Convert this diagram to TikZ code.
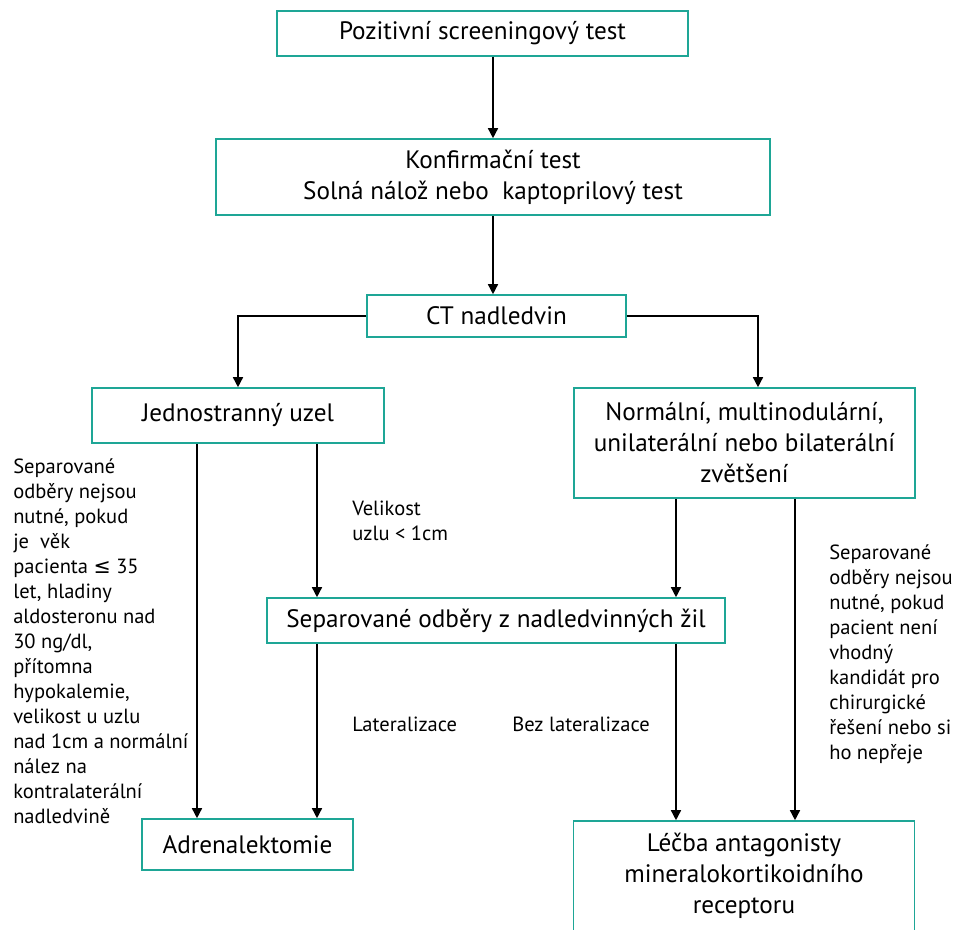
\documentclass[tikz,border=0pt]{standalone}
\usepackage{fontspec}
\setmainfont{PT Sans}
\newfontfamily\symfont{DejaVu Sans}
\usetikzlibrary{arrows.meta}
\definecolor{boxteal}{RGB}{30,166,150}

\begin{document}
\begin{tikzpicture}[x=0.75pt,y=0.75pt,yscale=-1,xscale=1,
  greenbox/.style={draw=boxteal,line width=1.2pt,align=center,inner sep=0pt,font=\fontsize{18.9}{23.25}\selectfont},
  note/.style={align=left,inner sep=0pt,anchor=north west,font=\fontsize{15.4}{18.75}\selectfont},
  conn/.style={line width=1.1pt,-{Triangle[width=7.5pt,length=7.5pt]}}]
%set diagram to 957 x 929
\clip (0,0) rectangle (957,929);

%Shape: Rectangle [screening]
\node[greenbox,minimum width=308.25pt,minimum height=33.75pt] (screen) at (482.5,33.5) {Pozitivní screeningový test};
%Shape: Rectangle [konfirmace]
\node[greenbox,minimum width=415.5pt,minimum height=57pt] (konf) at (493,177) {Konfirmační test\\Solná nálož nebo\ \ kaptoprilový test};
%Shape: Rectangle [CT]
\node[greenbox,minimum width=194.25pt,minimum height=31.5pt] (ct) at (496.5,316) {CT nadledvin};
%Shape: Rectangle [uzel]
\node[greenbox,minimum width=219pt,minimum height=41.25pt] (jedn) at (238,415.5) {Jednostranný uzel};
%Shape: Rectangle [normalni]
\node[greenbox,minimum width=255.75pt,minimum height=82.5pt] (norm) at (744.5,443) {Normální, multinodulární,\\unilaterální nebo bilaterální\\zvětšení};
%Shape: Rectangle [odbery]
\node[greenbox,minimum width=343.5pt,minimum height=33.75pt] (sep) at (496,620.5) {Separované odběry z nadledvinných žil};
%Shape: Rectangle [adrenalektomie]
\node[greenbox,minimum width=158.25pt,minimum height=38.25pt] (adr) at (247.5,844.5) {Adrenalektomie};
%Shape: Rectangle [lecba]
\node[greenbox,minimum width=255.75pt,minimum height=82.5pt] (lecba) at (744,876) {Léčba antagonisty\\mineralokortikoidního\\receptoru};

%columns of the vertical lines
\coordinate (colA) at (197,0);
\coordinate (colB) at (317,0);
\coordinate (colC) at (676,0);
\coordinate (colD) at (795,0);
\coordinate (colE) at (758,0);

%Straight Lines
\draw[conn] (screen.south -| konf.north) -- (konf.north);
\draw[conn] (konf.south) -- (konf.south |- ct.north);
\draw[conn] (ct.west) -| (jedn.north);
\draw[conn] (ct.east) -| (norm.north -| colE);
\draw[conn] (jedn.south -| colA) -- (adr.north -| colA);
\draw[conn] (jedn.south -| colB) -- (sep.north -| colB);
\draw[conn] (sep.south -| colB) -- (adr.north -| colB);
\draw[conn] (norm.south -| colC) -- (sep.north -| colC);
\draw[conn] (sep.south -| colC) -- (lecba.north -| colC);
\draw[conn] (norm.south -| colD) -- (lecba.north -| colD);

%Text notes
\node[note] (noteL) at (13,458) {Separované\\odběry nejsou\\nutné, pokud\\je\ \ věk\\pacienta {\symfont ≤} 35\\let, hladiny\\aldosteronu nad\\30 ng/dl,\\přítomna\\hypokalemie,\\velikost u uzlu\\nad 1cm a normální\\nález na\\kontralaterální\\nadledvině};
\node[note] (noteR) at (829,544) {Separované\\odběry nejsou\\nutné, pokud\\pacient není\\vhodný\\kandidát pro\\chirurgické\\řešení nebo si\\ho nepřeje};
\node[note] (velik) at (352,501) {Velikost\\uzlu < 1cm};
\node[note,anchor=west] (lat) at (352,724) {Lateralizace};
\node[note,anchor=west] (bezlat) at (512,724) {Bez lateralizace};

\end{tikzpicture}
\end{document}
